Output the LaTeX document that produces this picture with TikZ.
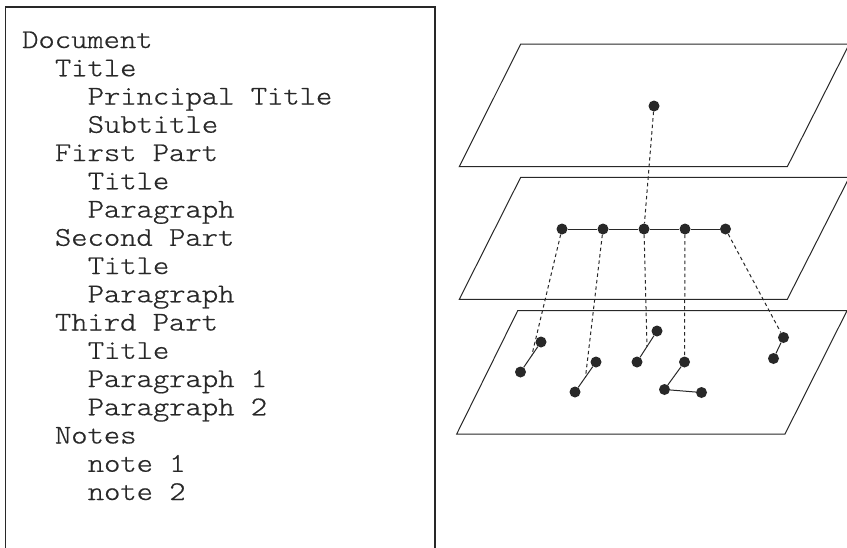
\documentclass[tikz,border=0pt]{standalone}
\usepackage{fontspec}
\newfontfamily\monof[FakeStretch=1.15,FakeBold=0.6]{Latin Modern Mono Light}
\usetikzlibrary{calc}
\definecolor{ink}{RGB}{40,40,40}
\begin{document}
\begin{tikzpicture}[x=1pt,y=-1pt,
  txt/.style={anchor=base west, inner sep=0pt, font=\monof\fontsize{27}{28}\selectfont, text=ink},
  plane/.style={draw=ink, line width=1pt, line join=miter},
  dot/.style={circle, fill=ink, inner sep=0pt, minimum size=11pt},
  link/.style={draw=ink, line width=1pt},
  drop/.style={draw=ink, line width=1pt, dash pattern=on 3.5pt off 3pt}]
\useasboundingbox (0,0) rectangle (847,547);
\clip (0,0) rectangle (847,547);
\fill[white] (0,0) rectangle (847,547);
% left box
\draw[draw=ink, line width=1.2pt] (5.5,560) -- (5.5,7) -- (435,7) -- (435,560);
\foreach \t/\lvl [count=\i from 0] in {Document/0, Title/1, Principal Title/2, Subtitle/2,
  First Part/1, Title/2, Paragraph/2, Second Part/1, Title/2, Paragraph/2,
  Third Part/1, Title/2, Paragraph 1/2, Paragraph 2/2, Notes/1, note 1/2, note 2/2}
  \node[txt] (l\i) at ({22+\lvl*32.8}, {48+28.25*\i}) {\t};
% planes
\draw[plane] (459.3,166.7) -- (787.3,166.7) -- (849.3,44) -- (520.7,44) -- cycle;
\draw[plane] (459.3,299.3) -- (787.3,299.3) -- (849.3,177.3) -- (520.7,177.3) -- cycle;
\draw[plane] (456.7,434) -- (785,434) -- (847,310.7) -- (517.7,310.7) -- cycle;
% dots
\node[dot] (T) at (654,106) {};
\node[dot] (M1) at (562,229) {};
\node[dot] (M2) at (603,229) {};
\node[dot] (M3) at (644,229) {};
\node[dot] (M4) at (685,229) {};
\node[dot] (M5) at (725.5,229) {};
\node[dot] (A1) at (541,342) {};
\node[dot] (A2) at (520.5,372) {};
\node[dot] (B1) at (596,362) {};
\node[dot] (B2) at (575,392) {};
\node[dot] (C1) at (657,331) {};
\node[dot] (C2) at (637,362) {};
\node[dot] (D1) at (684.5,362) {};
\node[dot] (D2) at (664.5,389.5) {};
\node[dot] (D3) at (701.5,392.5) {};
\node[dot] (E1) at (783.5,337.5) {};
\node[dot] (E2) at (773.5,358.5) {};
\coordinate (Am) at ($(A1)!0.45!(A2)$);
\coordinate (Bm) at ($(B1)!0.5!(B2)$);
\coordinate (Cm) at ($(C1)!0.5!(C2)$);
% links
\draw[link] (M1) -- (M2) -- (M3) -- (M4) -- (M5);
\draw[link] (A1) -- (A2);
\draw[link] (B1) -- (B2);
\draw[link] (C1) -- (C2);
\draw[link] (D1) -- (D2) -- (D3);
\draw[link] (E1) -- (E2);
% drops
\draw[drop] (T) -- (M3);
\draw[drop] (M1) -- (Am);
\draw[drop] (M2) -- (Bm);
\draw[drop] (M3) -- (Cm);
\draw[drop] (M4) -- (D1);
\draw[drop] (M5) -- (E1);
\end{tikzpicture}
\end{document}
